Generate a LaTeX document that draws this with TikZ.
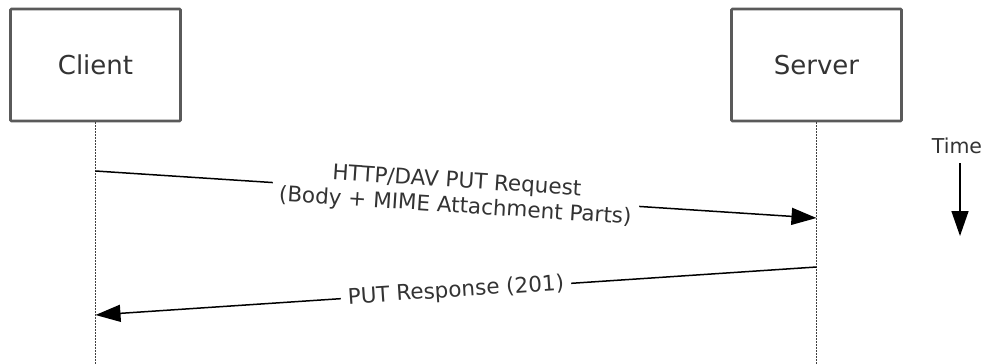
\documentclass[tikz,border=0pt]{standalone}
\usepackage{fontspec}
\setmainfont{DejaVu Sans}
\usetikzlibrary{arrows.meta}
\definecolor{boxgray}{HTML}{5A5A5A}
\definecolor{linegray}{HTML}{404040}
\definecolor{textgray}{HTML}{333333}
\begin{document}
\begin{tikzpicture}[x=1pt,y=-1pt,
  actor/.style={draw=boxgray, line width=2.6pt, rounded corners=1pt, minimum width=170pt, minimum height=112pt, inner sep=0pt, font=\fontsize{26}{30}\selectfont, text=textgray},
  lifeline/.style={line width=1.8pt, draw=linegray, dash pattern=on 1.5pt off 1.5pt},
  msg/.style={line width=1.5pt, -{Triangle[length=25pt,width=17pt]}},
  lbl/.style={fill=white, font=\fontsize{21.5}{25}\selectfont, text=textgray, align=center, inner xsep=7pt, inner ysep=2pt, sloped},
  timelbl/.style={font=\fontsize{20.5}{24}\selectfont, text=textgray, inner sep=0pt}]
\useasboundingbox (0,0) rectangle (989,364);
\node[actor] (client) at (95.5,65) {Client};
\node[actor] (server) at (816.5,65) {Server};
\coordinate (cend) at (95.5,364);
\coordinate (send) at (816.5,364);
\draw[lifeline] (client.south) -- (cend);
\draw[lifeline] (server.south) -- (send);
\coordinate (r1s) at (95.5,171);
\coordinate (r1e) at (816.5,218);
\coordinate (r2s) at (816.5,267);
\coordinate (r2e) at (95.5,315);
\draw[msg] (r1s) -- node[lbl] {HTTP/DAV PUT Request\\(Body + MIME Attachment Parts)} (r1e);
\draw[msg] (r2s) -- node[lbl] {PUT Response (201)} (r2e);
\node[timelbl] (time) at (957,146) {Time};
\coordinate (ts) at (960,163);
\coordinate (te) at (960,236);
\draw[msg] (ts) -- (te);
\end{tikzpicture}
\end{document}
